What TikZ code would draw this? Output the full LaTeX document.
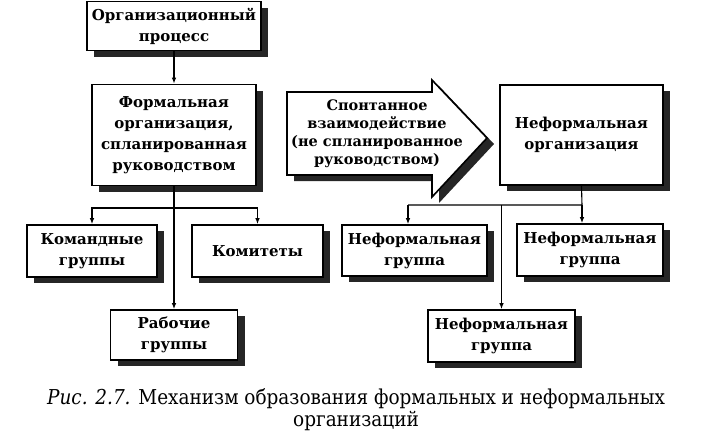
\documentclass[tikz,border=0pt]{standalone}
\usepackage{fontspec}
\setmainfont{DejaVu Serif}
\newfontfamily\capfont{DejaVu Serif Condensed}
\usetikzlibrary{arrows.meta,shadows}
\tikzset{
 shd/.style={drop shadow={shadow xshift=7pt,shadow yshift=-6pt,fill=black!85,opacity=1}},
 blk/.style={draw,fill=white,line width=1.6pt,align=center,inner sep=0pt,
  font=\bfseries\fontsize{15}{21}\selectfont,shd},
 arr/.style={-{Latex[length=6pt,width=4.5pt]},line width=1.1pt},
 lnk/.style={line width=1.1pt}
}
\begin{document}
\begin{tikzpicture}[x=1pt,y=-1pt]
\useasboundingbox (0,0) rectangle (712,437);
%%%%%formal side
\def\xf{174}
\node[blk,minimum width=174pt,minimum height=49pt] (proc) at (\xf,26) {Организационный\\процесс};
\node[blk,minimum width=164pt,minimum height=101pt] (formal) at (\xf,135) {Формальная\\организация,\\спланированная\\руководством};
\node[blk,minimum width=130pt,minimum height=52pt] (komand) at (92,251) {Командные\\группы};
\node[blk,minimum width=131pt,minimum height=52pt] (komit) at (257.5,251) {Комитеты};
\node[blk,minimum width=127pt,minimum height=50pt] (rab) at (\xf,335) {Рабочие\\группы};

\draw[arr] (proc.south) -- (formal.north);
\coordinate (lsplit) at (\xf,208);
\draw[arr] (lsplit) -| (komand.north);
\draw[arr] (lsplit) -| (komit.north);
\draw[arr] (formal.south) -- (rab.north);

%%%%%spontaneous arrow
\def\xa{287}
\def\xh{432}
\draw[fill=white,line width=1.6pt,line join=miter,shd]
 (\xa,92) -- (\xh,92) -- (\xh,80) -- (487,138) -- (\xh,197) -- (\xh,175) -- (\xa,175) -- cycle;
\node[align=center,font=\bfseries\fontsize{14.5}{18}\selectfont] (spont) at (377,134)
 {Спонтанное\\взаимодействие\\(не спланированное\\руководством)};

%%%%%informal side
\node[blk,minimum width=163pt,minimum height=100pt] (nform) at (581.5,135) {Неформальная\\организация};
\node[blk,minimum width=145pt,minimum height=51pt] (ngr1) at (414.5,250.5) {Неформальная\\группа};
\node[blk,minimum width=146pt,minimum height=52pt] (ngr2) at (590,250) {Неформальная\\группа};
\node[blk,minimum width=147pt,minimum height=52pt] (ngr3) at (501.5,336) {Неформальная\\группа};

\coordinate (rsplit) at (582,205);
\coordinate (rleft) at (408,205);
\draw[lnk] (nform.south) -- (rsplit) -- (rleft);
\draw[arr] (rleft) -- (rleft |- ngr1.north);
\draw[arr] (rsplit) -- (rsplit |- ngr2.north);
\draw[arr] (rsplit -| ngr3.north) -- (ngr3.north);

%%%%%caption
\node[align=center,font=\capfont\fontsize{20.5}{22}\selectfont] (cap) at (356,410)
 {{\itshape Рис. 2.7.} Механизм образования формальных и неформальных\\организаций};
\end{tikzpicture}
\end{document}
